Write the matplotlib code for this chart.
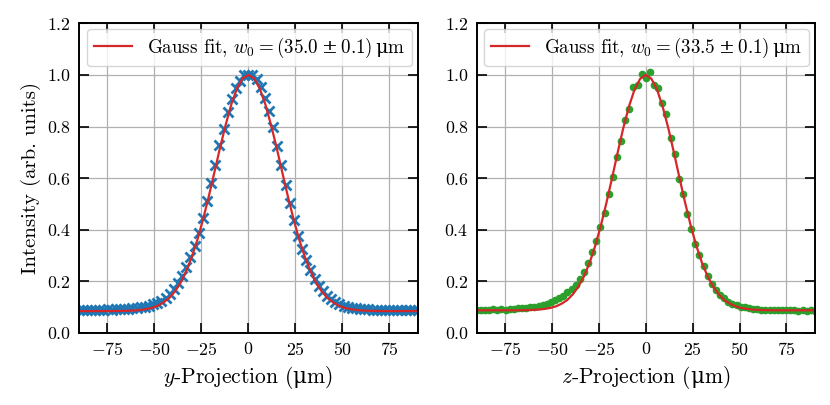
import matplotlib
matplotlib.use('Agg')
import matplotlib.pyplot as plt

plt.rcParams['font.family'] = ['cmr10', 'DejaVu Serif']
plt.rcParams['mathtext.fontset'] = 'custom'
plt.rcParams['mathtext.rm'] = 'cmr10'
plt.rcParams['mathtext.it'] = 'cmmi10'
plt.rcParams['mathtext.bf'] = 'cmb10'
plt.rcParams['mathtext.cal'] = 'cmsy10'
plt.rcParams['mathtext.tt'] = 'cmtt10'
plt.rcParams['mathtext.sf'] = 'DejaVu Serif'
plt.rcParams['mathtext.fallback'] = 'cm'
plt.rcParams['axes.formatter.use_mathtext'] = True
plt.rcParams['axes.unicode_minus'] = True

# positions of the measured points (µm), same grid in both projections
pos = [-90.2, -88.0, -85.8, -83.6, -81.4, -79.2, -77.0, -74.8, -72.6, -70.4,
       -68.2, -66.0, -63.8, -61.6, -59.4, -57.2, -55.0, -52.8, -50.6, -48.4,
       -46.2, -44.0, -41.8, -39.6, -37.4, -35.2, -33.0, -30.8, -28.6, -26.4,
       -24.2, -22.0, -19.8, -17.6, -15.4, -13.2, -11.0, -8.8, -6.6, -4.4,
       -2.2, 0.0, 2.2, 4.4, 6.6, 8.8, 11.0, 13.2, 15.4, 17.6,
       19.8, 22.0, 24.2, 26.4, 28.6, 30.8, 33.0, 35.2, 37.4, 39.6,
       41.8, 44.0, 46.2, 48.4, 50.6, 52.8, 55.0, 57.2, 59.4, 61.6,
       63.8, 66.0, 68.2, 70.4, 72.6, 74.8, 77.0, 79.2, 81.4, 83.6,
       85.8, 88.0, 90.2]

y_data = [0.089, 0.091, 0.088, 0.090, 0.089, 0.091, 0.090, 0.092, 0.090, 0.093,
          0.092, 0.094, 0.093, 0.096, 0.097, 0.099, 0.102, 0.106, 0.111, 0.117,
          0.124, 0.135, 0.150, 0.170, 0.193, 0.222, 0.257, 0.295, 0.338, 0.387,
          0.445, 0.510, 0.582, 0.652, 0.727, 0.792, 0.855, 0.908, 0.948, 0.978,
          0.998, 1.000, 0.999, 0.983, 0.955, 0.912, 0.860, 0.797, 0.726, 0.650,
          0.575, 0.503, 0.437, 0.376, 0.326, 0.281, 0.244, 0.211, 0.184, 0.162,
          0.144, 0.131, 0.120, 0.112, 0.106, 0.101, 0.098, 0.096, 0.094, 0.093,
          0.092, 0.091, 0.090, 0.091, 0.089, 0.090, 0.089, 0.090, 0.088, 0.089,
          0.088, 0.089, 0.088]

z_data = [0.090, 0.088, 0.091, 0.089, 0.092, 0.090, 0.093, 0.091, 0.094, 0.093,
          0.096, 0.095, 0.098, 0.099, 0.101, 0.104, 0.108, 0.113, 0.121, 0.128,
          0.136, 0.145, 0.157, 0.170, 0.186, 0.208, 0.238, 0.272, 0.314, 0.356,
          0.412, 0.466, 0.540, 0.604, 0.683, 0.742, 0.826, 0.868, 0.955, 0.961,
          1.004, 0.987, 1.013, 0.962, 0.951, 0.893, 0.849, 0.756, 0.694, 0.598,
          0.540, 0.460, 0.401, 0.346, 0.302, 0.259, 0.222, 0.191, 0.168, 0.149,
          0.134, 0.122, 0.113, 0.107, 0.102, 0.099, 0.096, 0.094, 0.093, 0.091,
          0.091, 0.090, 0.089, 0.090, 0.088, 0.089, 0.088, 0.089, 0.087, 0.088,
          0.087, 0.088, 0.087]

fit_pos = [-90, -87, -84, -81, -78, -75, -72, -69, -66, -63, -60, -57, -54, -51,
           -48, -45, -42, -39, -36, -33, -30, -27, -24, -21, -18, -15, -12, -9,
           -6, -3, 0, 3, 6, 9, 12, 15, 18, 21, 24, 27, 30, 33, 36, 39, 42, 45,
           48, 51, 54, 57, 60, 63, 66, 69, 72, 75, 78, 81, 84, 87, 90]

y_fit = [0.085, 0.085, 0.085, 0.085, 0.085, 0.085, 0.085, 0.0854, 0.0857, 0.0864,
         0.0876, 0.0895, 0.093, 0.098, 0.106, 0.119, 0.136, 0.161, 0.195, 0.240,
         0.296, 0.363, 0.442, 0.530, 0.624, 0.719, 0.808, 0.887, 0.948, 0.987,
         1.000, 0.987, 0.948, 0.887, 0.808, 0.719, 0.624, 0.530, 0.442, 0.363,
         0.296, 0.240, 0.195, 0.161, 0.136, 0.119, 0.106, 0.098, 0.093, 0.0895,
         0.0876, 0.0864, 0.0857, 0.0854, 0.085, 0.085, 0.085, 0.085, 0.085, 0.085,
         0.085]

z_fit = [0.088, 0.088, 0.088, 0.088, 0.088, 0.088, 0.088, 0.088, 0.0884, 0.0888,
         0.0895, 0.0908, 0.0931, 0.0969, 0.103, 0.113, 0.127, 0.149, 0.179, 0.219,
         0.271, 0.337, 0.415, 0.504, 0.600, 0.699, 0.794, 0.877, 0.943, 0.985,
         1.000, 0.985, 0.943, 0.877, 0.794, 0.699, 0.600, 0.504, 0.415, 0.337,
         0.271, 0.219, 0.179, 0.149, 0.127, 0.113, 0.103, 0.0969, 0.0931, 0.0908,
         0.0895, 0.0888, 0.0884, 0.088, 0.088, 0.088, 0.088, 0.088, 0.088, 0.088,
         0.088]

# cmr10 has no proper mu / plus-minus glyphs, take them from DejaVu Serif
mu = r'$\mathsf{\mu}$'
y_label = r'Gauss fit, $w_0 = (35.0\:\mathsf{\pm}\:0.1)\,$' + mu + 'm'
z_label = r'Gauss fit, $w_0 = (33.5\:\mathsf{\pm}\:0.1)\,$' + mu + 'm'

fig = plt.figure(figsize=(8.3, 4.05), dpi=100)
ax1 = fig.add_axes([0.0952, 0.1778, 0.408, 0.7647])
ax2 = fig.add_axes([0.5747, 0.1778, 0.4067, 0.7647])

ax1.plot(pos, y_data, ls='none', marker='x', ms=7.2, mew=2.0, color='tab:blue')
ax1.plot(fit_pos, y_fit, color='tab:red', lw=1.6, label=y_label)
ax2.plot(pos, z_data, ls='none', marker='o', ms=4.5, color='tab:green')
ax2.plot(fit_pos, z_fit, color='tab:red', lw=1.6, label=z_label)

ax1.set_xlabel('$y$-Projection (' + mu + 'm)', fontsize=15.5)
ax2.set_xlabel('$z$-Projection (' + mu + 'm)', fontsize=15.5)
ax1.set_ylabel('Intensity (arb. units)', fontsize=15)

for ax in [ax1, ax2]:
    ax.set_xlim(-90, 90)
    ax.set_ylim(0, 1.2)
    ax.set_xticks([-75, -50, -25, 0, 25, 50, 75])
    ax.set_yticks([0.0, 0.2, 0.4, 0.6, 0.8, 1.0, 1.2])
    ax.grid(True, color='#b0b0b0', lw=0.9)
    ax.set_axisbelow(True)
    ax.tick_params(direction='in', top=True, right=True, length=7.5,
                   width=1.2, labelsize=12.8, pad=6)
    for s in ax.spines.values():
        s.set_linewidth(1.4)
    ax.legend(loc='upper right', fontsize=13.7, handlelength=2.0,
              borderaxespad=0.3, borderpad=0.35, fancybox=True)

fig.savefig('out.png', dpi=100)
